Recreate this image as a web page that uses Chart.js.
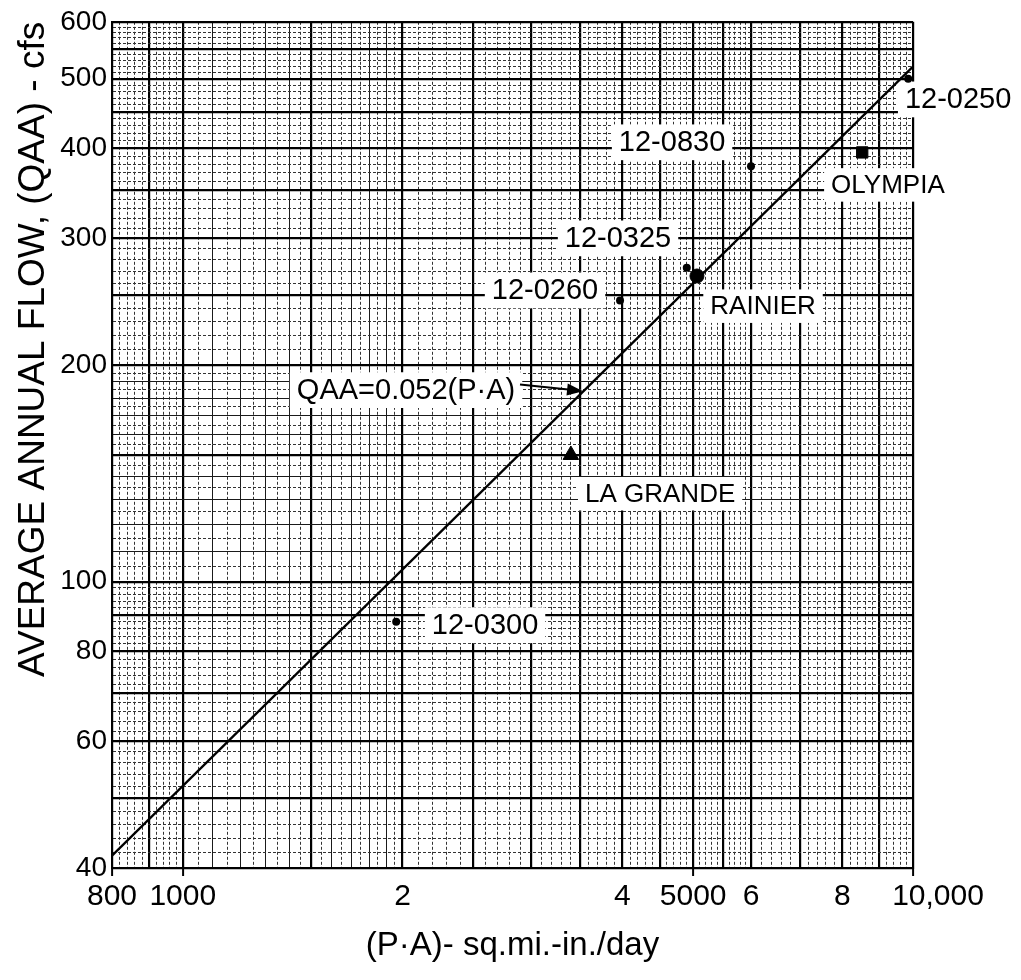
<!DOCTYPE html>
<html>
<head>
<meta charset="utf-8">
<script src="https://cdn.jsdelivr.net/npm/chart.js@4.4.1/dist/chart.umd.min.js"></script>
<style>
  html, body { margin: 0; padding: 0; background: #fff; }
  #wrap { width: 1021px; height: 980px; position: relative; }
</style>
</head>
<body>
<div id="wrap"><canvas id="c"></canvas></div>
<script>
// ---------------- data ----------------
const stationNames = ['12-0250', '12-0830', '12-0325', '12-0260', '12-0300'];
const stationPA    = [9850, 6000, 4900, 3970, 1960];
const stationQAA   = [500, 378, 273, 246, 88];

const rainierPA  = [5060];  const rainierQAA  = [266];
const olympiaPA  = [8520];  const olympiaQAA  = [395];
const laGrandePA = [3400];  const laGrandeQAA = [150];

// fitted line QAA = 0.052 (P·A), end points
const fitPA  = [800, 10000];
const fitQAA = [41.6, 520];

// tick labels
const xTickValues = [800, 1000, 2000, 4000, 5000, 6000, 8000, 10000];
const xTickLabels = ['800', '1000', '2', '4', '5000', '6', '8', '\u2007\u2007\u200710,000'];
const xTickMarks  = [800, 1000, 5000, 10000];
const yTickValues = [40, 60, 80, 100, 200, 300, 400, 500, 600];
const yTickLabels = ['40', '60', '80', '100', '200', '300', '400', '500', '600'];

// annotation texts and their anchors (data units)
const noteTexts = ['12-0250', '12-0830', 'OLYMPIA', '12-0325', '12-0260', 'RAINIER', 'QAA=0.052(P·A)', 'LA GRANDE', '12-0300'];
const notePA    = [11530, 4678, 9240, 3945, 3134, 6232, 2022, 4505, 2594];
const noteQAA   = [468, 408, 356, 300, 254, 241.5, 184.6, 132.5, 87];
const arrowPA   = [2896, 3533];
const arrowQAA  = [188, 184];

// log-paper ruling
function steps(a, b, s) { const r = []; for (let v = a; v <= b + 1e-9; v += s) r.push(Math.round(v * 100) / 100); return r; }
const xHeavy  = [800, 900, 1000, 1500, 2000, 2500, 3000, 3500, 4000, 4500, 5000, 5500, 6000, 7000, 8000, 9000, 10000];
const xMedium = steps(1100, 1900, 100).filter(v => !xHeavy.includes(v));
const xFine   = [].concat(steps(820, 980, 20), steps(1050, 1950, 50), steps(2100, 4900, 100), steps(5100, 5900, 100), steps(6200, 9800, 200))
                  .filter(v => !xHeavy.includes(v) && !xMedium.includes(v));
const yHeavy  = [40, 50, 60, 70, 80, 90, 100, 150, 200, 250, 300, 350, 400, 450, 500, 550, 600];
const yMedium = steps(110, 190, 10).filter(v => !yHeavy.includes(v));
const yFine   = [].concat(steps(42, 98, 2), steps(105, 195, 5), steps(210, 590, 10))
                  .filter(v => !yHeavy.includes(v) && !yMedium.includes(v));

const xGrid = [...new Set([].concat(xHeavy, xMedium, xFine))].sort((a, b) => a - b);
const yGrid = [...new Set([].concat(yHeavy, yMedium, yFine))].sort((a, b) => a - b);

const FONT = '"Liberation Sans", Arial, sans-serif';

function gridStyle(heavy, medium) {
  return {
    color: ctx => {
      const v = ctx.tick && ctx.tick.value;
      if (heavy.includes(v)) return '#000';
      if (medium.includes(v)) return '#1a1a1a';
      return '#333';
    },
    lineWidth: ctx => {
      const v = ctx.tick && ctx.tick.value;
      if (heavy.includes(v)) return 2.2;
      return 1;
    }
  };
}
function dashStyle(heavy, medium) {
  return ctx => {
    const v = ctx.tick && ctx.tick.value;
    if (v === undefined || heavy.includes(v) || medium.includes(v)) return [];
    return [3, 2];
  };
}

const notesPlugin = {
  id: 'notes',
  beforeDatasetsDraw(chart) {
    const { ctx, scales: { x, y } } = chart;
    ctx.save();
    ctx.textAlign = 'center';
    ctx.textBaseline = 'middle';
    noteTexts.forEach((t, i) => {
      const px = x.getPixelForValue(notePA[i]);
      const py = y.getPixelForValue(noteQAA[i]);
      const size = /^[A-Z ]+$/.test(t) ? 26 : 29;
      ctx.font = size + 'px ' + FONT;
      const w = ctx.measureText(t).width;
      const h = size * 0.75;
      ctx.fillStyle = '#fff';
      ctx.fillRect(px - w / 2 - 7, py - h / 2 - 7, w + 14, h + 14);
      ctx.fillStyle = '#000';
      ctx.fillText(t, px, py + 1);
    });
    // arrow to the fitted line
    const x0 = x.getPixelForValue(arrowPA[0]), y0 = y.getPixelForValue(arrowQAA[0]);
    const x1 = x.getPixelForValue(arrowPA[1]), y1 = y.getPixelForValue(arrowQAA[1]);
    const ang = Math.atan2(y1 - y0, x1 - x0);
    ctx.strokeStyle = '#000';
    ctx.lineWidth = 2;
    ctx.beginPath(); ctx.moveTo(x0, y0); ctx.lineTo(x1 - 10 * Math.cos(ang), y1 - 10 * Math.sin(ang)); ctx.stroke();
    ctx.fillStyle = '#000';
    ctx.beginPath();
    ctx.moveTo(x1, y1);
    ctx.lineTo(x1 - 16 * Math.cos(ang) + 6 * Math.sin(ang), y1 - 16 * Math.sin(ang) - 6 * Math.cos(ang));
    ctx.lineTo(x1 - 16 * Math.cos(ang) - 6 * Math.sin(ang), y1 - 16 * Math.sin(ang) + 6 * Math.cos(ang));
    ctx.closePath(); ctx.fill();
    ctx.restore();
  }
};

const toXY = (xs, ys) => xs.map((v, i) => ({ x: v, y: ys[i] }));

new Chart(document.getElementById('c'), {
  type: 'scatter',
  data: {
    datasets: [
      { label: 'QAA=0.052(P·A)', data: toXY(fitPA, fitQAA), showLine: true, borderColor: '#000', borderWidth: 2.4, pointRadius: 0, fill: false },
      { label: 'stations', data: toXY(stationPA, stationQAA), pointRadius: 4, pointBackgroundColor: '#000', pointBorderColor: '#000', pointBorderWidth: 0 },
      { label: 'RAINIER', data: toXY(rainierPA, rainierQAA), pointRadius: 7, pointBackgroundColor: '#000', pointBorderColor: '#000' },
      { label: 'OLYMPIA', data: toXY(olympiaPA, olympiaQAA), pointStyle: 'rect', pointRadius: 8, pointBackgroundColor: '#000', pointBorderColor: '#000' },
      { label: 'LA GRANDE', data: toXY(laGrandePA, laGrandeQAA), pointStyle: 'triangle', pointRadius: 9, pointBackgroundColor: '#000', pointBorderColor: '#000' }
    ]
  },
  options: {
    responsive: true,
    maintainAspectRatio: false,
    animation: false,
    layout: { padding: { left: 0, top: 11, right: 108, bottom: 0 } },
    plugins: { legend: { display: false }, tooltip: { enabled: false } },
    scales: {
      x: {
        type: 'logarithmic', position: 'bottom', min: 800, max: 10000,
        afterBuildTicks: axis => { axis.ticks = xGrid.map(v => ({ value: v })); },
        afterFit: s => { s.height = 112; },
        ticks: {
          autoSkip: false, maxRotation: 0, minRotation: 0, padding: 3, color: '#000',
          font: { family: FONT, size: 30 },
          callback: v => { const i = xTickValues.indexOf(v); return i >= 0 ? xTickLabels[i] : ''; }
        },
        grid: Object.assign(gridStyle(xHeavy, xMedium), {
          drawTicks: true, tickLength: 8, tickWidth: 2,
          tickColor: ctx => (ctx.tick && xTickMarks.includes(ctx.tick.value)) ? '#000' : 'rgba(0,0,0,0)'
        }),
        border: { display: true, color: '#000', width: 2, dash: dashStyle(xHeavy, xMedium) },
        title: { display: true, text: '(P·A)- sq.mi.-in./day', color: '#000', font: { family: FONT, size: 33 }, padding: { top: 0, bottom: 14 } }
      },
      y: {
        type: 'logarithmic', position: 'left', min: 40, max: 600,
        afterBuildTicks: axis => { axis.ticks = yGrid.map(v => ({ value: v })); },
        afterFit: s => { s.width = 112; },
        ticks: {
          autoSkip: false, padding: 5, color: '#000',
          font: { family: FONT, size: 28 },
          callback: v => { const i = yTickValues.indexOf(v); return i >= 0 ? yTickLabels[i] : ''; }
        },
        grid: Object.assign(gridStyle(yHeavy, yMedium), { drawTicks: false }),
        border: { display: true, color: '#000', width: 2, dash: dashStyle(yHeavy, yMedium) },
        title: { display: true, text: 'AVERAGE ANNUAL FLOW, (QAA) - cfs', align: 'end', color: '#000', font: { family: FONT, size: 37 }, padding: { top: 12, bottom: 0 } }
      }
    }
  },
  plugins: [notesPlugin]
});
</script>
</body>
</html>
